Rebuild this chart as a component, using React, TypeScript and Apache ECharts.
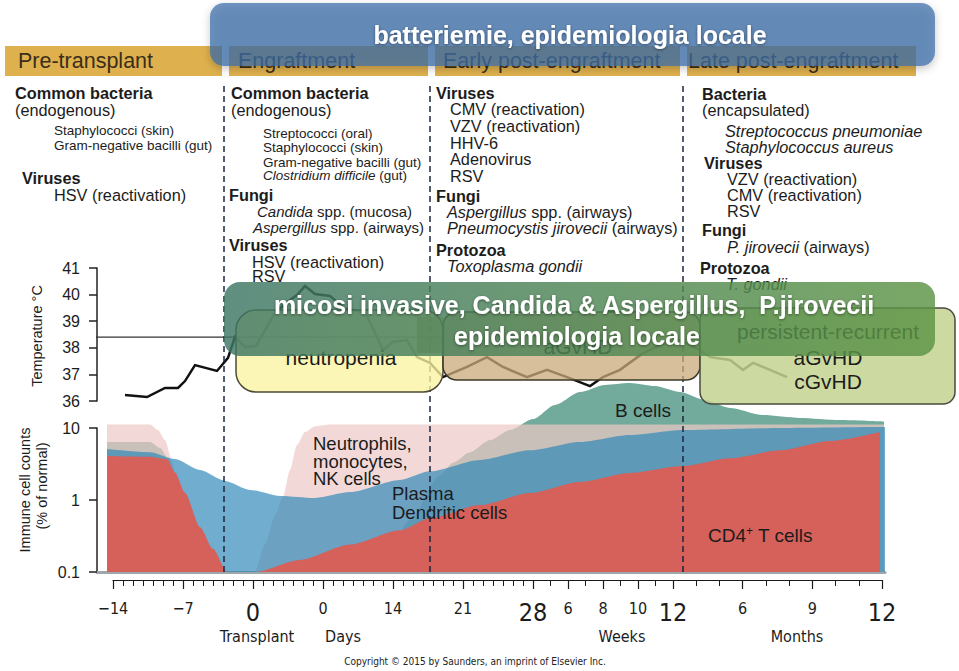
import React, { useEffect, useRef } from 'react';
import * as echarts from 'echarts';

const SANS = "'Liberation Sans', Arial, Helvetica, sans-serif";
const NARROW = "'Liberation Sans Narrow', 'DejaVu Sans Condensed', 'Liberation Sans', sans-serif";
const INK = '#1c1c1c';

// ---------- schematic time axis: days, then weeks, then months ----------
const dayTicks = [-14, -13, -12, -11, -10, -9, -8, -7, -6, -5, -4, -3, -2, -1, 0, 1, 2, 3, 4, 5, 6, 7, 8, 9, 10, 11, 12, 13, 14, 15, 16, 17, 18, 19, 20, 21, 22, 23, 24, 25, 26, 27, 28];
const weekTicks = [5, 6, 7, 8, 9, 10, 11, 12];
const monthTicks = [4, 5, 6, 7, 8, 9, 10, 11, 12];
const dayLabels = [-14, -7, 0, 7, 14, 21, 28];
const dayLabelText = ['−14', '−7', '0', '0', '14', '21', '28'];
const dayLabelBig = [0, 0, 1, 0, 0, 0, 1];
const weekLabels = [6, 8, 10, 12];
const weekLabelBig = [0, 0, 0, 1];
const monthLabels = [6, 9, 12];
const monthLabelBig = [0, 0, 1];
const unitLabels = ['Transplant', 'Days', 'Weeks', 'Months'];

// segment scales of the timeline (timeline units)
const posDay = (d: number) => d + 14;
const posWeek = (w: number) => 42 + (w - 4) * 1.75;
const posMonth = (m: number) => 56 + (m - 3) * 2.322;

// ---------- temperature (°C) ----------
const tempPos = [1.2, 3.4, 5.2, 6.5, 7.2, 8.2, 10.4, 11.5, 12.2, 13.2, 14.3, 16.2, 17.7, 18.4, 19.2, 20.2, 21.7, 23.2, 25.2, 27.0, 28.0, 29.4, 30.4, 31.7, 33.0, 35.4, 37.4, 39.0, 41.4, 43.4, 45.4, 47.7, 49.0, 50.7, 53.0, 54.7, 56.7, 58.7, 59.7, 61.7, 63.0, 64.0, 65.7, 67.4];
const tempC = [36.23, 36.15, 36.49, 36.49, 36.75, 37.35, 37.13, 37.62, 38.41, 38.03, 38.07, 39.31, 39.8, 39.98, 40.32, 40.02, 39.95, 39.46, 39.35, 37.92, 38.22, 38.29, 37.65, 37.43, 36.9, 37.28, 37.65, 37.28, 36.9, 37.17, 36.9, 36.56, 36.9, 37.17, 37.8, 38.11, 38.29, 37.92, 37.65, 37.54, 37.17, 37.43, 37.17, 36.9];
const feverC = 38.4;
const feverSpan = [-3.0, 33.0];

// ---------- immune cell counts (% of normal, log scale) ----------
const neutroPos = [-0.6, 3.7, 4.5, 5.2, 5.9, 6.7, 7.5, 14.2, 15.2, 16.2, 17.0, 17.7, 18.4, 19.2, 20.2, 21.7, 77.1];
const neutroVal = [11.2, 11.2, 9.4, 6.8, 3.5, 1.0, 0.1, 0.1, 0.24, 0.62, 1.1, 2.6, 5.8, 8.8, 10.6, 11.2, 11.2];
const bCellPos = [-0.6, 3.7, 4.7, 5.5, 6.3, 7.0, 7.5, 26.7, 29.7, 32.7, 34.0, 35.7, 37.7, 39.7, 42.0, 44.2, 46.7, 49.2, 51.7, 54.2, 56.7, 59.2, 61.7, 65.0, 68.7, 72.7, 77.1];
const bCellVal = [6.4, 6.4, 5.3, 3.8, 1.8, 0.5, 0.1, 0.1, 0.53, 2.2, 3.3, 4.6, 6.8, 9.4, 13.3, 20.9, 31.6, 39.7, 42.2, 38.3, 31.6, 24.5, 19.0, 15.1, 13.8, 12.9, 12.3];
const plasmaPos = [-0.6, 3.7, 6.2, 8.7, 11.2, 13.7, 16.7, 20.2, 23.7, 28.7, 31.7, 36.7, 41.7, 46.7, 51.7, 57.0, 66.7, 76.7, 77.5];
const plasmaVal = [5.1, 4.6, 3.7, 2.6, 1.84, 1.38, 1.14, 1.07, 1.29, 1.9, 2.5, 3.6, 4.9, 6.4, 8.0, 9.4, 10.0, 10.3, 10.3];
const cd4Pos = [-0.6, 3.7, 5.4, 6.2, 7.2, 8.7, 10.0, 11.4, 14.2, 18.7, 23.7, 28.7, 31.7, 36.7, 41.7, 46.7, 51.7, 57.0, 61.7, 66.7, 71.7, 76.7];
const cd4Val = [4.1, 4.0, 3.7, 2.4, 1.26, 0.42, 0.21, 0.1, 0.1, 0.147, 0.24, 0.38, 0.56, 0.85, 1.25, 1.78, 2.37, 2.96, 3.8, 4.9, 6.6, 8.8];

// phase boundaries (timeline units)
const phaseBounds = [11.1, 31.7, 57.0];

// ---------- axis helpers ----------
const labelPos = [...dayLabels.map(posDay), ...weekLabels.map(posWeek), ...monthLabels.map(posMonth)];
const labelText = [...dayLabelText, ...weekLabels.map(String), ...monthLabels.map(String)];
const labelBig = [...dayLabelBig, ...weekLabelBig, ...monthLabelBig];
const allTicks = [...dayTicks.map(posDay), ...weekTicks.map(posWeek), ...monthTicks.map(posMonth)];
const minorTicks = allTicks.filter((t) => !labelPos.some((p) => Math.abs(p - t) < 0.01));

const TMIN = -1.6;
const TMAX = 77.2;

function txt(x: number, y: number, text: string, size: number, o: any = {}) {
  const align = o.align ?? 'left';
  const lh = Math.round(size * 0.95);
  return {
    type: 'text',
    x,
    y,
    z: o.z ?? 60,
    rotation: o.rotation ?? 0,
    silent: true,
    style: {
      text,
      fill: o.fill ?? INK,
      fontSize: size,
      fontFamily: o.family ?? SANS,
      fontWeight: o.weight ?? 'normal',
      fontStyle: 'normal',
      lineHeight: lh,
      align,
      textAlign: align,
      verticalAlign: 'middle',
      textVerticalAlign: 'middle',
      textShadowColor: o.shadow ? 'rgba(0,0,0,0.45)' : undefined,
      textShadowBlur: o.shadow ? 3 : 0,
      textShadowOffsetY: o.shadow ? 1 : 0,
      rich: {
        i: { fontStyle: 'italic', fontSize: size, fontFamily: o.family ?? SANS, fill: o.fill ?? INK, lineHeight: lh },
        sup: { fontSize: 12, fontFamily: SANS, fill: o.fill ?? INK, verticalAlign: 'top', lineHeight: 20 },
        n: { fontSize: size, fontFamily: SANS, fill: o.fill ?? INK, lineHeight: 20 },
      },
    },
  };
}

function buildGraphics() {
  const els: any[] = [];
  // header bars
  const hx0 = [5, 229, 435, 687];
  const hx1 = [222, 428, 680, 916];
  const htx = [18, 238, 443, 688];
  const htext = ['Pre-transplant', 'Engraftment', 'Early post-engraftment', 'Late post-engraftment'];
  hx0.forEach((x0, i) => {
    els.push({ type: 'rect', z: 40, silent: true, shape: { x: x0, y: 46, width: hx1[i] - x0, height: 30 }, style: { fill: '#dfb14e' } });
    els.push(txt(htx[i], 61, htext[i], 21.5, { z: 41, fill: '#3a2e1a' }));
  });
  // top banner
  els.push({
    type: 'rect', z: 90, silent: true,
    shape: { x: 210, y: 3, width: 725, height: 63, r: 14 },
    style: { fill: 'rgba(58,108,168,0.72)', shadowBlur: 8, shadowColor: 'rgba(0,0,0,0.3)', shadowOffsetY: 3 },
  });
  els.push(txt(570, 35, 'batteriemie, epidemiologia locale', 25, { z: 91, align: 'center', fill: '#ffffff', weight: 'bold', shadow: true }));

  // pathogen lists
  const B = 'b', N = 'n', S = 's', M = 'm', L = 'l';
  const lines: [number, number, string, string][] = [
    [15, 93, 'Common bacteria', B],
    [15, 110, '(endogenous)', N],
    [54, 130, 'Staphylococci (skin)', S],
    [54, 145, 'Gram-negative bacilli (gut)', S],
    [22, 178, 'Viruses', B],
    [54, 195, 'HSV (reactivation)', N],

    [231, 93, 'Common bacteria', B],
    [231, 110, '(endogenous)', N],
    [263, 133, 'Streptococci (oral)', S],
    [263, 147, 'Staphylococci (skin)', S],
    [263, 162, 'Gram-negative bacilli (gut)', S],
    [263, 175, '{i|Clostridium difficile} (gut)', S],
    [229, 195, 'Fungi', B],
    [257, 211, '{i|Candida} spp. (mucosa)', M],
    [253, 227, '{i|Aspergillus} spp. (airways)', M],
    [229, 245, 'Viruses', B],
    [252, 262, 'HSV (reactivation)', N],
    [252, 276, 'RSV', N],

    [436, 93, 'Viruses', B],
    [450, 109, 'CMV (reactivation)', N],
    [450, 126, 'VZV (reactivation)', N],
    [450, 143, 'HHV-6', N],
    [450, 159, 'Adenovirus', N],
    [450, 176, 'RSV', N],
    [436, 196, 'Fungi', B],
    [447, 212, '{i|Aspergillus} spp. (airways)', L],
    [447, 228, '{i|Pneumocystis jirovecii} (airways)', L],
    [436, 250, 'Protozoa', B],
    [447, 266, '{i|Toxoplasma gondii}', L],

    [702, 94, 'Bacteria', B],
    [702, 110, '(encapsulated)', N],
    [725, 131, '{i|Streptococcus pneumoniae}', N],
    [725, 147, '{i|Staphylococcus aureus}', N],
    [704, 163, 'Viruses', B],
    [727, 179, 'VZV (reactivation)', N],
    [727, 195, 'CMV (reactivation)', N],
    [727, 211, 'RSV', N],
    [702, 230, 'Fungi', B],
    [727, 247, '{i|P. jirovecii} (airways)', N],
    [700, 268, 'Protozoa', B],
    [726, 284, '{i|T. gondii}', N],
  ];
  lines.forEach(([x, y, t, k]) => {
    if (k === B) els.push(txt(x, y, t, 16.3, { weight: 'bold' }));
    else if (k === S) els.push(txt(x, y, t, 13.5));
    else if (k === M) els.push(txt(x, y, t, 15));
    else els.push(txt(x, y, t, 16.3));
  });

  // axis titles
  els.push(txt(37, 336, 'Temperature °C', 14.5, { align: 'center', rotation: Math.PI / 2 }));
  els.push(txt(25, 490, 'Immune cell counts', 14.5, { align: 'center', rotation: Math.PI / 2 }));
  els.push(txt(42, 486, '(% of normal)', 14.5, { align: 'center', rotation: Math.PI / 2 }));

  // cell population labels
  els.push(txt(313, 443, 'Neutrophils,', 18.5));
  els.push(txt(313, 461, 'monocytes,', 18.5));
  els.push(txt(313, 478, 'NK cells', 18.5));
  els.push(txt(392, 493, 'Plasma', 18.5));
  els.push(txt(392, 512, 'Dendritic cells', 18.5));
  els.push(txt(615, 410, 'B cells', 19));
  els.push(txt(708, 535, '{n|CD4}{sup|+}{n| T cells}', 19));

  // time unit labels
  els.push(txt(257, 636, unitLabels[0], 16, { align: 'center', family: NARROW }));
  els.push(txt(343, 636, unitLabels[1], 16, { align: 'center', family: NARROW }));
  els.push(txt(622, 636, unitLabels[2], 16, { align: 'center', family: NARROW }));
  els.push(txt(797, 636, unitLabels[3], 16, { align: 'center', family: NARROW }));
  els.push(txt(475, 661, 'Copyright © 2015 by Saunders, an imprint of Elsevier Inc.', 10, { align: 'center', family: NARROW, fill: '#222' }));

  // clinical overlay boxes
  els.push({ type: 'rect', z: 70, silent: true, shape: { x: 236, y: 310, width: 207, height: 82, r: 20 }, style: { fill: 'rgba(250,244,160,0.78)', stroke: '#4d4b35', lineWidth: 1.5 } });
  els.push(txt(341, 357, 'neutropenia', 21, { z: 71, align: 'center' }));
  els.push({ type: 'rect', z: 70, silent: true, shape: { x: 443, y: 312, width: 257, height: 68, r: 14 }, style: { fill: 'rgba(200,170,120,0.75)', stroke: '#3e3a2a', lineWidth: 1.5 } });
  els.push(txt(578, 346, 'aGvHD', 21, { z: 71, align: 'center' }));
  els.push({ type: 'rect', z: 70, silent: true, shape: { x: 417, y: 317, width: 28, height: 36 }, style: { fill: 'rgba(150,140,50,0.45)' } });
  els.push({ type: 'rect', z: 70, silent: true, shape: { x: 700, y: 308, width: 255, height: 96, r: 12 }, style: { fill: 'rgba(195,212,145,0.85)', stroke: '#4a4a40', lineWidth: 1.5 } });
  els.push(txt(828, 331, 'persistent-recurrent', 21, { z: 71, align: 'center' }));
  els.push(txt(828, 357, 'aGvHD', 21, { z: 71, align: 'center' }));
  els.push(txt(828, 381, 'cGvHD', 21, { z: 71, align: 'center' }));

  // invasive fungal banner
  els.push({
    type: 'rect', z: 80, silent: true,
    shape: { x: 224, y: 282, width: 711, height: 74, r: 16 },
    style: {
      fill: new echarts.graphic.LinearGradient(0, 0, 1, 0, [
        { offset: 0, color: 'rgba(62,118,100,0.82)' },
        { offset: 1, color: 'rgba(92,148,68,0.82)' },
      ]),
    },
  });
  els.push(txt(574, 305, 'micosi invasive, Candida & Aspergillus,  P.jirovecii', 25, { z: 81, align: 'center', fill: '#ffffff', weight: 'bold', shadow: true }));
  els.push(txt(577, 336, 'epidemiologia locale', 25, { z: 81, align: 'center', fill: '#ffffff', weight: 'bold', shadow: true }));
  return els;
}

function area(name: string, pos: number[], val: number[], color: string) {
  return {
    type: 'line', name, xAxisIndex: 1, yAxisIndex: 1,
    data: pos.map((p, i) => [p, Math.log10(val[i])]),
    smooth: 0.25, smoothMonotone: 'x', symbol: 'none', clip: false, silent: true,
    lineStyle: { width: 0 },
    areaStyle: { color, opacity: 1, origin: 'start' },
  };
}

function buildOption() {
  const hiddenX = (gi: number) => ({ type: 'value', gridIndex: gi, min: TMIN, max: TMAX, show: false });
  return {
    animation: false,
    backgroundColor: '#ffffff',
    grid: [
      { left: 97, right: 74, top: 268, height: 133, outerBoundsMode: 'none' },
      { left: 97, right: 74, top: 428, height: 144, outerBoundsMode: 'none' },
      { left: 97, right: 74, top: 85, height: 487, outerBoundsMode: 'none' },
      { left: 113, right: 77, top: 560, height: 20, outerBoundsMode: 'none' },
      { left: 113, right: 77, top: 560, height: 20, outerBoundsMode: 'none' },
    ],
    xAxis: [
      hiddenX(0),
      {
        type: 'value', gridIndex: 1, min: TMIN, max: TMAX,
        axisLine: { show: true, onZero: false, lineStyle: { color: '#9ea7aa', width: 3 } },
        axisTick: { show: false }, axisLabel: { show: false }, splitLine: { show: false },
      },
      hiddenX(2),
      {
        type: 'value', gridIndex: 3, min: 0, max: 76.9,
        axisLine: { show: true, onZero: false, lineStyle: { color: '#1a1a1a', width: 1.2 } },
        axisTick: { show: true, customValues: labelPos, length: 9, lineStyle: { color: '#1a1a1a', width: 1.2 } },
        axisLabel: {
          show: true, customValues: labelPos, margin: 20,
          formatter: (v: number) => {
            const i = labelPos.findIndex((p) => Math.abs(p - v) < 0.01);
            if (i < 0) return '';
            return labelBig[i] ? `{b|${labelText[i]}}` : `{s|${labelText[i]}}`;
          },
          rich: {
            s: { fontSize: 16, fontFamily: NARROW, color: INK },
            b: { fontSize: 25, fontFamily: NARROW, color: INK },
          },
        },
        splitLine: { show: false },
      },
      {
        type: 'value', gridIndex: 4, min: 0, max: 76.9,
        axisLine: { show: false, onZero: false },
        axisTick: { show: true, customValues: minorTicks, length: 6, lineStyle: { color: '#1a1a1a', width: 1 } },
        axisLabel: { show: false }, splitLine: { show: false },
      },
    ],
    yAxis: [
      {
        type: 'value', gridIndex: 0, min: 36, max: 41, interval: 1,
        axisLine: { show: true, onZero: false, lineStyle: { color: '#222', width: 1.5 } },
        axisTick: { show: true, length: 8, lineStyle: { color: '#222', width: 1.5 } },
        axisLabel: { margin: 17, fontSize: 16, fontFamily: SANS, color: INK },
        splitLine: { show: false },
      },
      {
        type: 'value', gridIndex: 1, min: -1, max: 1, interval: 1,
        axisLine: { show: true, onZero: false, lineStyle: { color: '#222', width: 1.5 } },
        axisTick: { show: true, length: 8, lineStyle: { color: '#222', width: 1.5 } },
        axisLabel: {
          margin: 17, fontSize: 16, fontFamily: SANS, color: INK,
          formatter: (v: number) => (v <= -1 ? '0.1' : v >= 1 ? '10' : '1'),
        },
        splitLine: { show: false },
      },
      { type: 'value', gridIndex: 2, min: 0, max: 1, show: false },
      { type: 'value', gridIndex: 3, min: 0, max: 1, show: false },
      { type: 'value', gridIndex: 4, min: 0, max: 1, show: false },
    ],
    series: [
      {
        type: 'line', name: 'fever threshold', xAxisIndex: 0, yAxisIndex: 0,
        data: [[feverSpan[0], feverC], [feverSpan[1], feverC]],
        symbol: 'none', clip: false, silent: true,
        lineStyle: { color: '#333', width: 1.2 },
      },
      {
        type: 'line', name: 'Temperature', xAxisIndex: 0, yAxisIndex: 0,
        data: tempPos.map((p, i) => [p, tempC[i]]),
        symbol: 'none', silent: true, clip: false,
        lineStyle: { color: '#111', width: 2.5, join: 'miter' },
      },
      area('B cells', bCellPos, bCellVal, '#72aa9c'),
      area('Neutrophils, monocytes, NK cells', neutroPos, neutroVal, 'rgba(236,201,198,0.7)'),
      area('Plasma / Dendritic cells', plasmaPos, plasmaVal, 'rgba(44,134,184,0.68)'),
      area('CD4+ T cells', cd4Pos, cd4Val, '#d6605a'),
      {
        type: 'line', name: 'phases', xAxisIndex: 2, yAxisIndex: 2, data: [], silent: true,
        markLine: {
          silent: true, symbol: ['none', 'none'], label: { show: false },
          lineStyle: { color: '#1b2640', width: 1.5, type: [6, 4] },
          data: phaseBounds.map((b) => ({ xAxis: b })),
        },
      },
    ],
    graphic: { elements: buildGraphics() },
  };
}

export default function App() {
  const ref = useRef<HTMLDivElement>(null);
  useEffect(() => {
    if (!ref.current) return;
    const chart = echarts.init(ref.current, null, { renderer: 'svg' });
    chart.setOption(buildOption() as any);
    return () => chart.dispose();
  }, []);
  return (
    <div
      ref={ref}
      style={{ position: 'fixed', left: 0, top: 0, width: 959, height: 671, background: '#ffffff' }}
    />
  );
}
